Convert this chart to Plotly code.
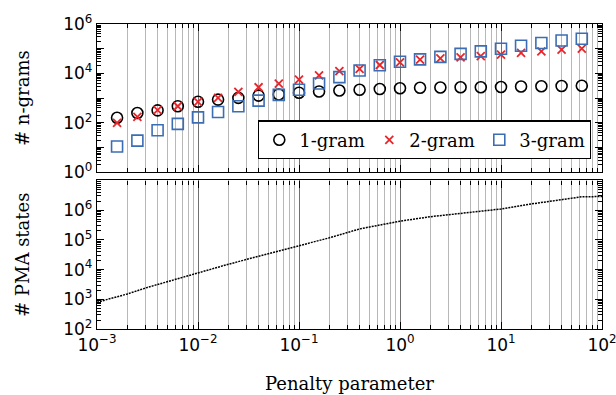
import plotly.graph_objects as go

# ---------------- data ----------------
penalty = [0.00158, 0.00251, 0.00398, 0.00631, 0.01, 0.0158, 0.0251, 0.0398,
           0.0631, 0.1, 0.158, 0.251, 0.398, 0.631, 1.0, 1.58, 2.51, 3.98,
           6.31, 10.0, 15.8, 25.1, 39.8, 63.1]
unigram = [160, 250, 320, 470, 710, 870, 1020, 1260, 1410, 1660, 1860, 2040,
           2190, 2340, 2510, 2630, 2690, 2750, 2750, 2820, 2950, 3020, 3090, 3160]
bigram = [100, 174, 324, 468, 708, 1023, 1778, 2754, 3890, 5623, 8318, 12300,
          15140, 21880, 28180, 36310, 40740, 44670, 50120, 57540, 67610, 77620,
          91200, 100000]
trigram = [11, 19, 50, 91, 166, 275, 468, 794, 1350, 2190, 3890, 7080, 13180,
           21380, 29510, 37150, 46770, 61660, 77620, 100000, 131800, 169800,
           213800, 251200]

pma_penalty = [0.001, 0.002, 0.00316, 0.01, 0.02, 0.04, 0.1, 0.2, 0.4,
               1.0, 2.0, 4.0, 10.0, 20.0, 40.0, 63.0, 100.0]
pma_states = [794, 1514, 2512, 7762, 15140, 28180, 61660, 117500, 234400,
              426600, 602600, 776200, 1096000, 1622000, 2344000, 2818000, 2884000]

x_tick_vals = [1e-3, 1e-2, 1e-1, 1e0, 1e1, 1e2]
x_tick_text = ["10<sup>−3</sup>", "10<sup>−2</sup>", "10<sup>−1</sup>",
               "10<sup>0</sup>", "10<sup>1</sup>", "10<sup>2</sup>"]
top_tick_vals = [1e0, 1e1, 1e2, 1e3, 1e4, 1e5, 1e6]
top_tick_text = ["10<sup>0</sup>", "", "10<sup>2</sup>", "", "10<sup>4</sup>", "",
                 "10<sup>6</sup>"]
bot_tick_vals = [1e2, 1e3, 1e4, 1e5, 1e6, 1e7]
bot_tick_text = ["10<sup>2</sup>", "10<sup>3</sup>", "10<sup>4</sup>",
                 "10<sup>5</sup>", "10<sup>6</sup>", ""]

# ---------------- style ----------------
SERIF = "DejaVu Serif"
SANS = "DejaVu Sans"
RED = "#e8262b"
BLUE = "#3b6db4"


def minor_positions(lo, hi):
    out = []
    for k in range(lo, hi):
        for d in range(2, 10):
            out.append(d * 10.0 ** k)
    return out


fig = go.Figure()

fig.add_trace(go.Scatter(
    x=penalty, y=unigram, mode="markers", name="1-gram",
    marker=dict(symbol="circle-open", size=11, color="black",
                line=dict(width=1.6, color="black")),
    xaxis="x", yaxis="y"))
fig.add_trace(go.Scatter(
    x=penalty, y=bigram, mode="markers", name="2-gram",
    marker=dict(symbol="x-thin-open", size=8, color=RED,
                line=dict(width=1.8, color=RED)),
    xaxis="x", yaxis="y"))
fig.add_trace(go.Scatter(
    x=penalty, y=trigram, mode="markers", name="3-gram",
    marker=dict(symbol="square-open", size=11, color=BLUE,
                line=dict(width=1.6, color=BLUE)),
    xaxis="x", yaxis="y"))
fig.add_trace(go.Scatter(
    x=pma_penalty, y=pma_states, mode="lines", showlegend=False,
    line=dict(color="black", width=1.5, dash="2px,1px"),
    xaxis="x2", yaxis="y2"))

xminor = minor_positions(-3, 2)
top_minor = minor_positions(0, 6)
bot_minor = minor_positions(2, 7)

common_x = dict(
    type="log", range=[-3, 2], showline=True, linecolor="black", linewidth=1.3,
    mirror="allticks", ticks="inside", ticklen=7, tickcolor="black",
    tickwidth=1.1, showgrid=True, gridcolor="#707070", gridwidth=1,
    zeroline=False, tickvals=x_tick_vals, ticktext=x_tick_text,
    automargin=False, ticklabeloverflow="allow",
    minor=dict(tickmode="array", tickvals=xminor, ticks="inside", ticklen=4,
               tickcolor="black", showgrid=True, gridcolor="#b8b8b8",
               gridwidth=1.2),
    tickfont=dict(family=SANS, size=17, color="black"),
)

common_y = dict(
    type="log", showline=True, linecolor="black", linewidth=1.3,
    mirror="allticks", ticks="inside", ticklen=7, tickcolor="black",
    tickwidth=1.1, showgrid=False, zeroline=False, automargin=False,
    ticklabeloverflow="allow",
    tickfont=dict(family=SANS, size=17, color="black"),
)

fig.update_layout(
    width=616, height=395,
    margin=dict(l=97, r=14, t=24, b=66),
    paper_bgcolor="white", plot_bgcolor="white",
    xaxis=dict(common_x, domain=[0, 1], anchor="y", showticklabels=False),
    yaxis=dict(common_y, domain=[0.514, 1], range=[0, 6], anchor="x",
               tickvals=top_tick_vals, ticktext=top_tick_text,
               minor=dict(tickmode="array", tickvals=top_minor, ticks="inside",
                          ticklen=4, tickcolor="black"),
               title=dict(text="# n-grams", font=dict(family=SERIF, size=18,
                                                     color="black"),
                          standoff=28)),
    xaxis2=dict(common_x, domain=[0, 1], anchor="y2", matches="x",
                title=dict(text="Penalty parameter",
                           font=dict(family=SERIF, size=18, color="black"),
                           standoff=23)),
    yaxis2=dict(common_y, domain=[0, 0.487], range=[2, 7], anchor="x2",
                tickvals=bot_tick_vals, ticktext=bot_tick_text,
                minor=dict(tickmode="array", tickvals=bot_minor, ticks="inside",
                           ticklen=4, tickcolor="black"),
                title=dict(text="# PMA states", font=dict(family=SERIF, size=18,
                                                         color="black"),
                           standoff=28)),
    legend=dict(orientation="h", x=0.319, xanchor="left", y=0.684,
                yanchor="top", bgcolor="white", bordercolor="black",
                borderwidth=1.2, entrywidth=65, entrywidthmode="pixels",
                font=dict(family=SERIF, size=18, color="black")),
)

fig.write_html("out.html",
               config={"displayModeBar": False},
               post_script="document.body.style.margin='0';"
                           "document.body.style.overflow='hidden';")
